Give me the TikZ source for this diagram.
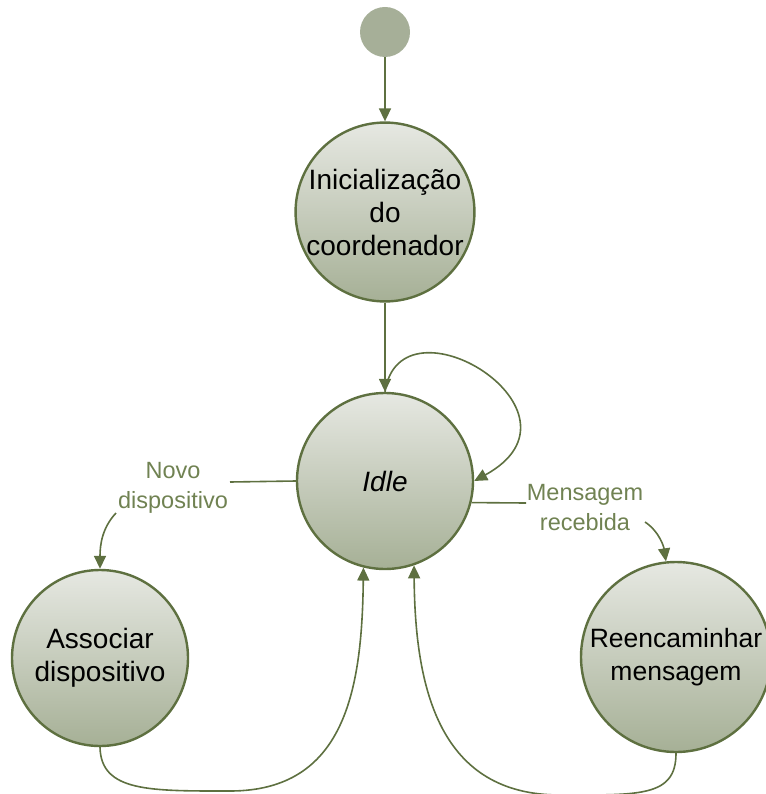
\documentclass[tikz,border=0pt]{standalone}
\usepackage{fontspec}
\setmainfont{Liberation Sans}
\usetikzlibrary{arrows.meta}
\definecolor{edge}{RGB}{94,112,64}
\definecolor{labeltext}{RGB}{112,130,82}
\definecolor{shadetop}{RGB}{230,232,226}
\definecolor{shadebottom}{RGB}{166,176,150}
\definecolor{startfill}{RGB}{166,175,152}
\tikzset{
  state/.style={circle, draw=edge, line width=2.4pt, minimum size=#1,
    inner sep=0pt, align=center, top color=shadetop, bottom color=shadebottom,
    font=\fontsize{28}{33}\selectfont, text=black},
  state/.default=176pt,
  conn/.style={draw=edge, line width=1.6pt},
  arr/.style={conn, -{Triangle[length=13pt,width=12pt]}},
  edgelabel/.style={align=center, text=labeltext, inner sep=0pt,
    font=\fontsize{23.5}{30}\selectfont},
}
\begin{document}
\begin{tikzpicture}[x=1pt,y=-1pt]
  \useasboundingbox (0,0) rectangle (765,794);

  % states
  \node[circle, fill=startfill, minimum size=50pt, inner sep=0pt] (start) at (385,32) {};
  \node[state] (init) at (385,212) {Inicialização\\do\\coordenador};
  \node[state] (idle) at (385,481) {\textit{Idle}};
  \node[state] (assoc) at (100,658) {Associar\\dispositivo};
  \node[state=190pt, font=\fontsize{26.5}{33}\selectfont] (fwd) at (676,657)
    {Reencaminhar\\mensagem};

  % edge labels
  \node[edgelabel] (lnew) at (173,488) {Novo\\dispositivo};
  \node[edgelabel] (lmsg) at (585,508) {Mensagem\\recebida};

  % helper points on the routed connectors
  \coordinate (newA) at (230,482);
  \coordinate (newB) at (116,513);
  \coordinate (msgA) at (526,503);
  \coordinate (msgB) at (645,522);
  \coordinate (assocLow) at (230,791);
  \coordinate (fwdLow) at (560,795);

  % straight transitions
  \draw[arr] (start) -- (init);
  \draw[arr] (init) -- (idle);

  % self loop on Idle
  \draw[arr] (idle.north) .. controls (400,290) and (600,412) .. (idle.east);

  % Idle -> Associar dispositivo
  \draw[conn] (idle.west) -- (newA);
  \draw[arr] (newB) .. controls (102,528) and (100,545) .. (assoc.north);

  % Idle -> Reencaminhar mensagem
  \draw[conn] (idle.-14) -- (msgA);
  \draw[arr] (msgB) .. controls (660,532) and (664,548) .. (fwd.96);

  % returns to Idle
  \draw[arr] (assoc.south) .. controls (101,792) and (150,791) .. (assocLow)
    .. controls (345,791) and (362,690) .. (idle.-104);
  \draw[arr] (fwd.south) .. controls (676,797) and (640,795) .. (fwdLow)
    .. controls (440,795) and (415,690) .. (idle.-71);
\end{tikzpicture}
\end{document}
